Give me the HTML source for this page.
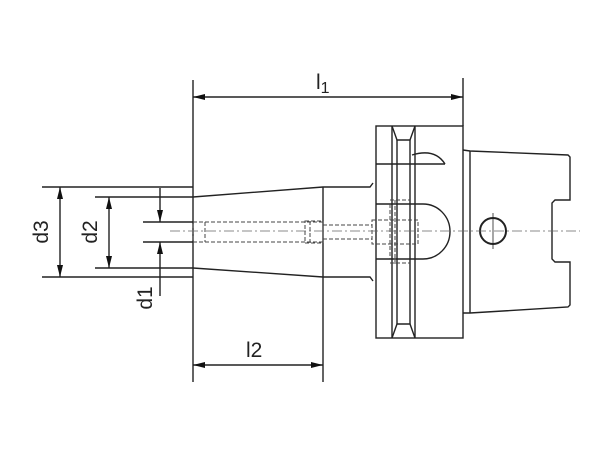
<!DOCTYPE html>
<html><head><style>body{margin:0;background:#fff}svg{display:block}</style></head><body>
<svg width="600" height="450" viewBox="0 0 600 450" xmlns="http://www.w3.org/2000/svg" font-family="Liberation Sans, sans-serif">
<g stroke="#222" stroke-width="1.4" fill="none">
<line x1="193" y1="80" x2="193" y2="382"/>
<line x1="463" y1="78" x2="463" y2="126"/>
<line x1="323" y1="187" x2="323" y2="382"/>
<line x1="42" y1="187" x2="193" y2="187"/>
<line x1="42" y1="277" x2="193" y2="277"/>
<line x1="95" y1="197" x2="193" y2="197"/>
<line x1="95" y1="268" x2="193" y2="268"/>
<line x1="143" y1="222" x2="193" y2="222"/>
<line x1="143" y1="242" x2="193" y2="242"/>
<line x1="193" y1="97" x2="463" y2="97"/>
<line x1="193" y1="365" x2="323" y2="365"/>
<line x1="60" y1="187" x2="60" y2="277"/>
<line x1="109" y1="197" x2="109" y2="268"/>
<line x1="160" y1="188" x2="160" y2="222"/>
<line x1="160" y1="242" x2="160" y2="296"/>
<polyline points="193,197 323,187 370,187 373,183"/>
<polyline points="193,268 323,277 370,277 373,281"/>
<rect x="376" y="126" width="87" height="212"/>
<polyline points="392,126 397,140 410,140 415,126"/>
<polyline points="392,338 397,324 410,324 415,338"/>
<line x1="392" y1="126" x2="392" y2="338"/>
<line x1="397" y1="140" x2="397" y2="324"/>
<line x1="410" y1="140" x2="410" y2="324"/>
<line x1="415" y1="126" x2="415" y2="338"/>
<line x1="376" y1="164" x2="445" y2="164"/>
<path d="M412,155 Q435,148 445,164"/>
<path d="M376,204 L423,204 A27,27.5 0 0 1 423,259 L376,259"/>
<line x1="470" y1="151" x2="470" y2="313"/>
<polyline points="463,150 470,151 568,155 570,157 570,200 555,200 552,203 552,259 555,262 570,262 570,305 568,307 470,313 463,313"/>
<circle cx="493" cy="231" r="13" stroke-width="2"/>
<line x1="493" y1="213" x2="493" y2="249" stroke-width="0.8"/>
</g>
<g stroke="#444" stroke-width="1" fill="none" stroke-dasharray="4,2">
<rect x="193" y="222" width="130" height="20"/>
<line x1="205" y1="222" x2="205" y2="242"/>
<rect x="305" y="221" width="18" height="22"/>
<line x1="310" y1="221" x2="310" y2="243"/>
<line x1="323" y1="225" x2="372" y2="225"/>
<line x1="323" y1="239" x2="372" y2="239"/>
<rect x="372" y="220" width="46" height="24"/>
<line x1="390" y1="204" x2="390" y2="259"/>
<line x1="395" y1="200" x2="395" y2="264"/>
<line x1="390" y1="200" x2="410" y2="200"/>
<line x1="390" y1="263" x2="410" y2="263"/>
</g>
<line x1="170" y1="231" x2="580" y2="231" stroke="#666" stroke-width="0.8" stroke-dasharray="10,3,2,3"/>
<g fill="#111">
<polygon points="193,97 205,94 205,100"/>
<polygon points="463,97 451,94 451,100"/>
<polygon points="193,365 205,362 205,368"/>
<polygon points="323,365 311,362 311,368"/>
<polygon points="60,187 57,199 63,199"/>
<polygon points="60,277 57,265 63,265"/>
<polygon points="109,197 106,209 112,209"/>
<polygon points="109,268 106,256 112,256"/>
<polygon points="160,222 157,210 163,210"/>
<polygon points="160,242 157,254 163,254"/>
</g>
<g font-size="21" fill="#222">
<text x="316" y="89">l<tspan font-size="16" dy="4">1</tspan></text>
<text x="246" y="357">l2</text>
<text transform="translate(48,232) rotate(-90)" text-anchor="middle">d3</text>
<text transform="translate(97,232) rotate(-90)" text-anchor="middle">d2</text>
<text transform="translate(152,298) rotate(-90)" text-anchor="middle">d1</text>
</g>
</svg>
</body></html>
